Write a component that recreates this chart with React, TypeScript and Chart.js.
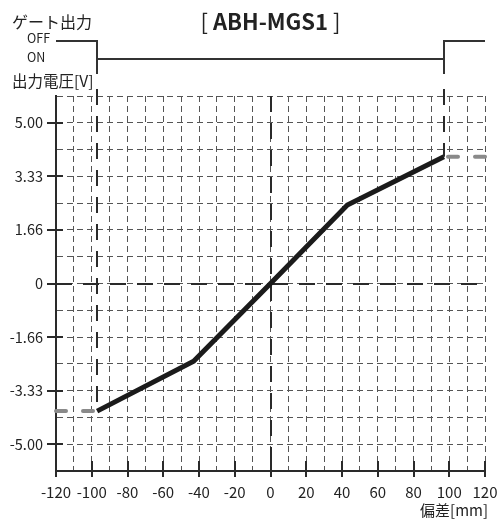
import React, { useEffect, useRef } from "react";
import { Chart, registerables } from "chart.js";

Chart.register(...registerables);

const FONT = '"Noto Sans CJK JP", "Noto Sans", sans-serif';

// ---- texts ----
const chartTitle = "ABH-MGS1";
const gateTitle = "ゲート出力";
const gateStates = ["OFF", "ON"];
const yAxisTitle = "出力電圧[V]";
const xAxisTitle = "偏差[mm]";

// ---- data ----
const deviation = [-97, -43, 0, 43, 97];
const voltage = [-3.97, -2.42, 0, 2.44, 3.94];

const clampLeftX = [-120, -97];
const clampLeftY = [-3.97, -3.97];
const clampRightX = [120, 97];
const clampRightY = [3.94, 3.94];

const gateEdges = [-97, 97];

// ---- axes ----
const xMin = -120;
const xMax = 120;
const yMin = -5.833;
const yMax = 5.833;
const xGridValues = [-120, -110, -100, -90, -80, -70, -60, -50, -40, -30, -20, -10, 0, 10, 20, 30, 40, 50, 60, 70, 80, 90, 100, 110, 120];
const xTickValues = [-120, -100, -80, -60, -40, -20, 0, 20, 40, 60, 80, 100, 120];
const yGridValues = [-5.833, -5, -4.167, -3.333, -2.5, -1.667, -0.833, 0, 0.833, 1.667, 2.5, 3.333, 4.167, 5, 5.833];
const yTickValues = [-5, -3.333, -1.667, 0, 1.667, 3.333, 5];
const yTickLabels = ["-5.00", "-3.33", "-1.66", "0", "1.66", "3.33", "5.00"];

const toPoints = (xs: number[], ys: number[]) => xs.map((v, i) => ({ x: v, y: ys[i] }));

const decorPlugin = {
  id: "decor",
  beforeDatasetsDraw(chart: any) {
    const { ctx, chartArea: a, scales } = chart;
    const x = scales.x;
    const y = scales.y;
    const line = (x1: number, y1: number, x2: number, y2: number) => {
      ctx.beginPath();
      ctx.moveTo(x1, y1);
      ctx.lineTo(x2, y2);
      ctx.stroke();
    };
    ctx.save();
    ctx.strokeStyle = "#2a2a2a";
    ctx.lineWidth = 2;
    ctx.setLineDash([16, 11]);
    const y0 = Math.round(y.getPixelForValue(0));
    const x0 = Math.round(x.getPixelForValue(0));
    line(a.left, y0, a.right, y0);
    line(x0, a.top, x0, a.bottom);
    gateEdges.forEach((g) => {
      const i = deviation.indexOf(g);
      const px = Math.round(x.getPixelForValue(g));
      line(px, a.top - 7, px, y.getPixelForValue(voltage[i]));
    });
    ctx.restore();
  },
  afterDraw(chart: any) {
    const { ctx, chartArea: a, scales } = chart;
    const x = scales.x;
    const y = scales.y;
    const line = (x1: number, y1: number, x2: number, y2: number) => {
      ctx.beginPath();
      ctx.moveTo(x1, y1);
      ctx.lineTo(x2, y2);
      ctx.stroke();
    };
    ctx.save();
    ctx.strokeStyle = "#2a2a2a";
    ctx.lineWidth = 2;
    ctx.setLineDash([]);
    // tick marks crossing the axes
    yTickValues.forEach((v) => {
      const py = Math.round(y.getPixelForValue(v));
      line(a.left - 9, py, a.left + 7, py);
    });
    xTickValues.forEach((v) => {
      const px = Math.round(x.getPixelForValue(v));
      line(px, a.bottom - 10, px, a.bottom + 6);
    });
    // gate output diagram
    const yOff = a.top - 55;
    const yOn = a.top - 37;
    const yLow = a.top - 22;
    const g0 = Math.round(x.getPixelForValue(gateEdges[0]));
    const g1 = Math.round(x.getPixelForValue(gateEdges[1]));
    ctx.strokeStyle = "#333";
    line(a.left, yOff, g0, yOff);
    line(g0, yOff - 1, g0, yLow);
    line(g0, yOn, g1, yOn);
    line(g1, yOff - 1, g1, yLow);
    line(g1, yOff, a.right, yOff);

    // texts
    ctx.fillStyle = "#222";
    ctx.textBaseline = "middle";
    ctx.textAlign = "left";
    ctx.font = `16px ${FONT}`;
    ctx.fillText(gateTitle, 12, 22);
    ctx.font = `12.5px ${FONT}`;
    ctx.fillText(gateStates[0], 27, yOff - 3);
    ctx.fillText(gateStates[1], 27, yOn - 2);
    ctx.font = `15.5px ${FONT}`;
    ctx.fillText(yAxisTitle, 12, a.top - 15);
    ctx.font = `15px ${FONT}`;
    ctx.textAlign = "right";
    ctx.fillText(xAxisTitle, a.right + 3, chart.height - 9);

    // title
    const cx = (a.left + a.right) / 2;
    const normal = `22px ${FONT}`;
    const bold = `bold 22px ${FONT}`;
    ctx.font = normal;
    const wOpen = ctx.measureText("[ ").width;
    const wClose = ctx.measureText(" ]").width;
    ctx.font = bold;
    const wMid = ctx.measureText(chartTitle).width;
    const total = wOpen + wMid + wClose;
    let tx = cx - total / 2;
    ctx.textAlign = "left";
    ctx.font = normal;
    ctx.fillText("[ ", tx, 22);
    tx += wOpen;
    ctx.font = bold;
    ctx.fillText(chartTitle, tx, 22);
    tx += wMid;
    ctx.font = normal;
    ctx.fillText(" ]", tx, 22);
    ctx.restore();
  },
};

export default function App() {
  const ref = useRef<HTMLCanvasElement | null>(null);

  useEffect(() => {
    if (!ref.current) return;
    const chart = new Chart(ref.current, {
      type: "scatter",
      data: {
        datasets: [
          {
            data: toPoints(deviation, voltage),
            showLine: true,
            borderColor: "#1b1b1b",
            borderWidth: 5,
            pointRadius: 0,
            pointHoverRadius: 0,
            clip: false,
          },
          {
            data: toPoints(clampLeftX, clampLeftY),
            showLine: true,
            borderColor: "#8a8a8a",
            borderWidth: 4,
            borderDash: [10, 17],
            borderCapStyle: "round",
            pointRadius: 0,
            clip: false,
          },
          {
            data: toPoints(clampRightX, clampRightY),
            showLine: true,
            borderColor: "#8a8a8a",
            borderWidth: 4,
            borderDash: [10, 17],
            borderCapStyle: "round",
            pointRadius: 0,
            clip: false,
          },
        ],
      } as any,
      options: {
        responsive: false,
        animation: false,
        devicePixelRatio: 1,
        layout: { padding: { top: 96, right: 13, left: 0, bottom: 0 } },
        plugins: {
          legend: { display: false },
          tooltip: { enabled: false },
          title: { display: false },
        },
        scales: {
          x: {
            type: "linear",
            min: xMin,
            max: xMax,
            afterBuildTicks: (s: any) => {
              s.ticks = xGridValues.map((v) => ({ value: v }));
            },
            afterFit: (s: any) => {
              s.height = 48;
              s.paddingLeft = 0;
              s.paddingRight = 0;
            },
            grid: { color: "#555", lineWidth: 1, drawTicks: false },
            border: { display: true, color: "#2a2a2a", width: 2, dash: [6, 4] },
            ticks: {
              autoSkip: false,
              maxRotation: 0,
              padding: 12,
              color: "#222",
              font: { family: FONT, size: 15 },
              callback: (v: any) => (xTickValues.includes(Number(v)) ? String(v) : ""),
            },
          },
          y: {
            type: "linear",
            min: yMin,
            max: yMax,
            afterBuildTicks: (s: any) => {
              s.ticks = yGridValues.map((v) => ({ value: v }));
            },
            afterFit: (s: any) => {
              s.width = 56;
              s.paddingTop = 0;
              s.paddingBottom = 0;
            },
            grid: { color: "#555", lineWidth: 1, drawTicks: false },
            border: { display: true, color: "#2a2a2a", width: 2, dash: [6, 4] },
            ticks: {
              autoSkip: false,
              padding: 13,
              color: "#222",
              font: { family: FONT, size: 14.5 },
              callback: (v: any) => {
                const i = yTickValues.findIndex((t) => Math.abs(t - Number(v)) < 0.01);
                return i >= 0 ? yTickLabels[i] : "";
              },
            },
          },
        },
      } as any,
      plugins: [decorPlugin],
    });
    return () => chart.destroy();
  }, []);

  return (
    <div style={{ position: "fixed", left: 0, top: 0, width: 498, height: 519, background: "#fff" }}>
      <canvas ref={ref} width={498} height={519} style={{ display: "block", width: 498, height: 519 }} />
    </div>
  );
}
